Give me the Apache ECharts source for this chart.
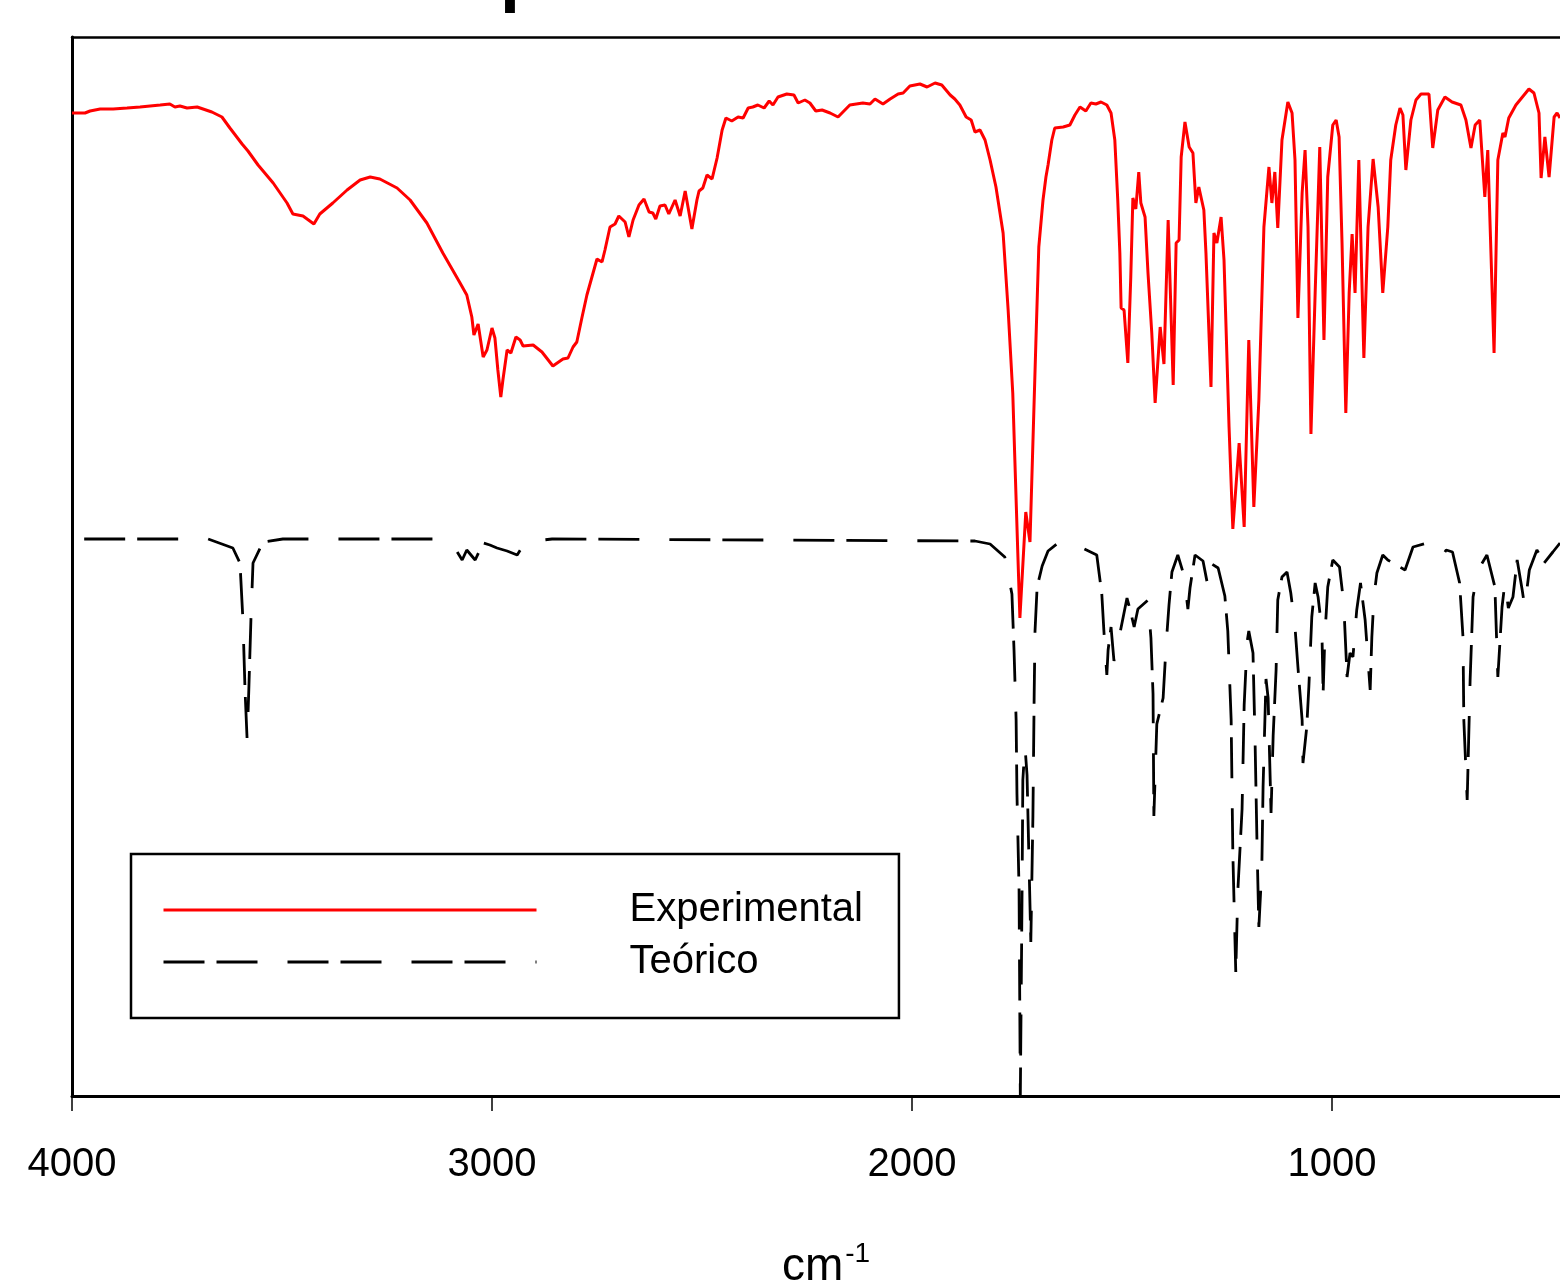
<!DOCTYPE html>
<html>
<head>
    <meta charset="utf-8">
    <title>IR</title>
    <script src="https://cdn.jsdelivr.net/npm/echarts@6.0.0/dist/echarts.min.js"></script>
</head>
<body style="margin:0;background:#fff;">
    <div id="chart" style="width:1560px;height:1281px;"></div>
    <script>
        // espectro experimental (cm-1, transmitancia relativa)
        var expWavenumber = [4000, 3969, 3957, 3933, 3902, 3869, 3838, 3790, 3767, 3755, 3743, 3726, 3702, 3688, 3667, 3643, 3624, 3595, 3581, 3557,
            3521, 3488, 3474, 3450, 3424, 3410, 3379, 3345, 3314, 3290, 3267, 3226, 3195, 3155, 3117, 3076, 3060, 3048, 3043, 3033,
            3021, 3012, 3000, 2993, 2986, 2979, 2974, 2964, 2955, 2943, 2933, 2926, 2902, 2881, 2855, 2831, 2819, 2807, 2798, 2786,
            2774, 2762, 2750, 2738, 2731, 2719, 2707, 2698, 2683, 2674, 2664, 2650, 2638, 2626, 2617, 2610, 2600, 2588, 2579, 2564,
            2552, 2540, 2524, 2512, 2507, 2498, 2488, 2476, 2464, 2452, 2443, 2429, 2414, 2402, 2390, 2379, 2367, 2352, 2340, 2331,
            2319, 2298, 2281, 2271, 2255, 2243, 2229, 2214, 2195, 2176, 2148, 2117, 2100, 2088, 2069, 2052, 2033, 2021, 2005, 1981,
            1964, 1945, 1929, 1909, 1898, 1886, 1871, 1859, 1850, 1838, 1826, 1814, 1800, 1783, 1771, 1760, 1755, 1748, 1743, 1729,
            1719, 1705, 1698, 1688, 1681, 1676, 1667, 1660, 1640, 1624, 1612, 1600, 1586, 1574, 1562, 1550, 1536, 1526, 1517, 1510,
            1505, 1502, 1495, 1486, 1479, 1474, 1467, 1460, 1455, 1445, 1438, 1429, 1421, 1409, 1400, 1390, 1378, 1371, 1364, 1359,
            1350, 1340, 1331, 1324, 1317, 1305, 1300, 1288, 1281, 1274, 1264, 1257, 1245, 1236, 1221, 1209, 1198, 1186, 1174, 1162,
            1150, 1143, 1136, 1129, 1119, 1105, 1095, 1088, 1081, 1071, 1064, 1057, 1050, 1040, 1029, 1019, 1010, 998, 990, 983,
            976, 967, 959, 952, 945, 936, 924, 914, 902, 890, 879, 867, 860, 848, 838, 831, 824, 812, 800, 788,
            769, 760, 748, 731, 714, 693, 681, 669, 659, 648, 636, 629, 614, 605, 593, 588, 579, 562, 531, 519,
            507, 502, 493, 483, 471, 464, 457];
        var expSignal = [98.3, 98.3, 98.5, 98.7, 98.7, 98.8, 98.9, 99.1, 99.2, 98.9, 99.0, 98.8, 98.9, 98.7, 98.4, 97.9, 96.8, 95.2, 94.5, 93.1,
            91.3, 89.3, 88.2, 88.0, 87.2, 88.2, 89.3, 90.6, 91.6, 91.9, 91.7, 90.8, 89.6, 87.3, 84.3, 81.3, 80.1, 77.9, 76.1, 77.2,
            73.9, 74.6, 76.8, 75.8, 72.6, 69.9, 71.6, 74.6, 74.3, 75.9, 75.6, 75.0, 75.1, 74.4, 73.0, 73.7, 73.8, 74.9, 75.4, 77.8,
            80.1, 81.9, 83.7, 83.4, 84.6, 86.9, 87.2, 88.0, 87.4, 85.9, 87.6, 89.1, 89.7, 88.4, 88.3, 87.7, 89.0, 89.1, 88.2, 89.6,
            88.0, 90.5, 86.7, 89.6, 90.5, 90.8, 92.1, 91.7, 93.8, 96.6, 97.8, 97.5, 97.9, 97.8, 98.8, 98.9, 99.1, 98.8, 99.5, 99.1,
            99.9, 100.2, 100.1, 99.3, 99.6, 99.3, 98.5, 98.6, 98.3, 97.9, 99.1, 99.3, 99.2, 99.7, 99.2, 99.7, 100.2, 100.3, 101.0, 101.2,
            100.9, 101.3, 101.1, 100.1, 99.7, 99.1, 97.9, 97.6, 96.4, 96.6, 95.6, 93.6, 90.9, 86.3, 78.6, 70.3, 63.6, 54.3, 47.8, 58.4,
            55.4, 75.3, 84.9, 89.6, 91.9, 93.1, 95.6, 96.8, 96.9, 97.1, 98.1, 98.9, 98.5, 99.3, 99.2, 99.4, 99.1, 98.3, 95.6, 89.6,
            84.3, 78.8, 78.6, 73.3, 81.9, 89.8, 88.7, 92.4, 89.3, 87.9, 82.3, 76.3, 69.3, 76.9, 73.2, 87.6, 71.1, 85.3, 85.6, 93.9,
            97.4, 94.9, 94.3, 89.3, 90.9, 88.6, 84.3, 70.9, 86.3, 85.3, 87.9, 83.6, 66.9, 56.7, 65.3, 56.9, 75.6, 58.9, 69.6, 86.9,
            92.9, 89.3, 92.4, 86.8, 95.6, 99.4, 98.3, 93.6, 77.8, 90.3, 94.6, 86.9, 66.2, 80.3, 94.9, 75.6, 91.9, 97.1, 97.6, 95.9,
            85.3, 68.3, 80.3, 86.2, 80.3, 93.6, 73.8, 86.9, 93.7, 88.9, 80.3, 86.9, 93.6, 97.1, 98.8, 98.1, 92.6, 97.6, 99.6, 100.2,
            100.2, 94.8, 98.6, 99.9, 99.4, 99.1, 97.6, 94.8, 97.1, 97.6, 89.9, 94.6, 74.3, 93.6, 96.3, 95.9, 97.8, 99.1, 100.7, 100.3,
            98.3, 91.8, 95.9, 91.9, 97.9, 98.3, 97.8];

        // espectro teórico (desplazado)
        var teoWavenumber = [3971, 3683, 3676, 3617, 3600, 3593, 3588, 3583, 3579, 3574, 3569, 3545, 3498, 3124, 3093, 3071, 3060, 3040, 3021, 3005,
            2988, 2964, 2940, 2921, 2857, 1850, 1814, 1779, 1762, 1757, 1752, 1750, 1745, 1742, 1738, 1736, 1731, 1726, 1721, 1717,
            1712, 1709, 1707, 1702, 1690, 1676, 1655, 1624, 1560, 1548, 1543, 1536, 1533, 1526, 1519, 1507, 1488, 1481, 1471, 1462,
            1438, 1431, 1426, 1424, 1417, 1402, 1395, 1388, 1381, 1367, 1352, 1343, 1338, 1326, 1307, 1295, 1286, 1271, 1255, 1248,
            1240, 1236, 1229, 1224, 1214, 1209, 1202, 1198, 1188, 1183, 1178, 1174, 1167, 1164, 1157, 1152, 1145, 1140, 1133, 1129,
            1119, 1107, 1098, 1088, 1081, 1071, 1069, 1060, 1055, 1048, 1040, 1033, 1024, 1021, 1017, 1010, 998, 982, 972, 964,
            957, 950, 941, 932, 921, 909, 905, 900, 893, 879, 867, 826, 807, 774, 755, 739, 728, 713, 696, 688,
            686, 678, 671, 664, 652, 631, 612, 605, 595, 588, 580, 569, 559, 547, 541, 530, 512, 495, 474, 457];
        var teoSignal = [55.7, 55.7, 55.7, 54.8, 53.3, 47.6, 40.6, 35.6, 40.6, 47.6, 53.3, 55.4, 55.7, 55.7, 55.1, 53.6, 54.6, 53.6, 55.3, 55.1,
            54.8, 54.5, 54.1, 55.4, 55.7, 55.5, 55.2, 53.9, 50.2, 44.6, 37.6, 30.2, 20.6, 0, 19.6, 31.6, 35.0, 32.1, 22.8, 15.4,
            28.0, 40.2, 46.5, 50.9, 53.0, 54.5, 55.2, 55.4, 54.1, 50.2, 46.5, 42.1, 44.6, 46.9, 43.5, 45.8, 49.8, 48.7, 46.9, 48.7,
            49.6, 45.8, 40.2, 28.0, 37.2, 39.8, 45.0, 49.1, 52.4, 54.1, 52.0, 48.7, 50.8, 54.1, 53.5, 50.9, 53.2, 52.8, 50.0, 46.5,
            37.6, 24.3, 12.4, 20.6, 28.7, 39.1, 45.4, 46.5, 44.3, 35.4, 24.3, 16.9, 22.8, 30.9, 41.7, 39.8, 28.3, 36.0, 42.6, 49.6,
            51.9, 52.4, 50.3, 46.9, 42.9, 37.6, 33.3, 36.9, 40.9, 47.9, 51.3, 49.9, 46.6, 40.3, 45.9, 50.9, 53.6, 52.9, 49.3, 41.9,
            44.3, 43.9, 48.6, 51.3, 47.6, 40.6, 45.9, 49.9, 52.3, 54.1, 53.6, 52.6, 54.9, 55.3, 54.9, 53.9, 54.6, 54.4, 51.3, 45.9,
            37.6, 29.6, 41.6, 49.9, 52.6, 54.1, 50.9, 41.9, 48.9, 51.4, 48.8, 49.9, 53.6, 50.6, 48.9, 52.6, 54.6, 53.3, 54.4, 55.3];

        var xTicks = [1000, 2000, 3000, 4000];
        var seriesNames = ['Experimental', 'Teórico'];

        function pairs(xs, ys) {
            return xs.map(function (x, i) { return [x, ys[i]]; });
        }

        var font = 'Liberation Sans, Arial, sans-serif';
        var chart = echarts.init(document.getElementById('chart'));

        var option = {
            animation: false,
            title: {
                text: 'p',
                left: 495,
                top: -63,
                textStyle: { fontSize: 72, fontWeight: 'bold', fontFamily: font, color: '#000' }
            },
            grid: { left: 72, right: 0, top: 37, bottom: 185, outerBoundsMode: 'none' },
            legend: {
                data: seriesNames,
                orient: 'vertical',
                left: 131,
                top: 854,
                borderColor: '#000',
                borderWidth: 2.5,
                padding: [33, 36, 33, 31],
                itemWidth: 373,
                itemHeight: 14,
                itemGap: 6,
                itemStyle: { opacity: 0 },
                lineStyle: { width: 3 },
                textStyle: {
                    fontSize: 40,
                    fontFamily: font,
                    color: '#000',
                    lineHeight: 46,
                    padding: [0, 0, 0, 88]
                }
            },
            xAxis: [{
                type: 'value',
                inverse: true,
                min: 457,
                max: 4000,
                name: '{a|cm}{b|-1}',
                nameLocation: 'middle',
                nameGap: 144,
                nameTextStyle: {
                    rich: {
                        a: { fontSize: 46, fontFamily: font, color: '#000', padding: [0, 0, 0, 20] },
                        b: { fontSize: 28, fontFamily: font, color: '#000', padding: [0, 0, 26, 2] }
                    }
                },
                axisLine: { onZero: false, lineStyle: { color: '#000', width: 3 } },
                axisTick: { show: true, inside: false, length: 15, customValues: xTicks, lineStyle: { color: '#000', width: 1.5 } },
                axisLabel: {
                    customValues: xTicks,
                    fontSize: 40,
                    fontFamily: font,
                    color: '#000',
                    margin: 49,
                    formatter: function (v) { return String(v); }
                },
                splitLine: { show: false }
            }, {
                type: 'value',
                position: 'top',
                inverse: true,
                min: 457,
                max: 4000,
                axisLine: { show: true, onZero: false, lineStyle: { color: '#000', width: 2.5 } },
                axisTick: { show: false },
                axisLabel: { show: false },
                splitLine: { show: false }
            }],
            yAxis: {
                type: 'value',
                min: 0,
                max: 105.9,
                axisLine: { show: true, onZero: false, lineStyle: { color: '#000', width: 3 } },
                axisTick: { show: false },
                axisLabel: { show: false },
                splitLine: { show: false }
            },
            series: [{
                name: seriesNames[0],
                type: 'line',
                symbol: 'none',
                data: pairs(expWavenumber, expSignal),
                lineStyle: { color: '#ff0000', width: 3 },
                itemStyle: { color: '#ff0000' }
            }, {
                name: seriesNames[1],
                type: 'line',
                symbol: 'none',
                data: pairs(teoWavenumber, teoSignal),
                lineStyle: { color: '#000', width: 2.8, type: [41, 12, 41, 30] },
                itemStyle: { color: '#000' }
            }]
        };

        chart.setOption(option);
    </script>
</body>
</html>
